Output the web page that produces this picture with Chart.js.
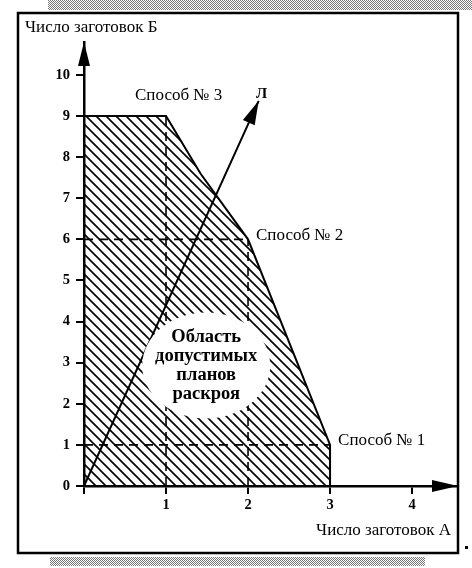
<!DOCTYPE html>
<html>
<head>
<meta charset="utf-8">
<script src="https://cdn.jsdelivr.net/npm/chart.js@4.4.1/dist/chart.umd.min.js"></script>
<style>
  body { margin: 0; background: #fff; }
  canvas { display: block; }
</style>
</head>
<body>
<canvas id="cutChart" width="472" height="568"></canvas>
<script>
  // Region of feasible cutting plans (vertices)
  const regionX = [0, 0, 1, 1.42, 2, 3, 3];
  const regionY = [0, 9, 9, 7.6, 6, 1, 0];

  // Cutting methods: blanks A and B
  const methodA = [3, 2, 1];
  const methodB = [1, 6, 9];
  const methodLabels = ['Способ № 1', 'Способ № 2', 'Способ № 3'];

  // Ray Л
  const rayX = [0, 2.13];
  const rayY = [0, 9.37];

  const xTicks = [1, 2, 3, 4];
  const yTicks = [0, 1, 2, 3, 4, 5, 6, 7, 8, 9, 10];
  const regionLabel = ['Область', 'допустимых', 'планов', 'раскроя'];
  const regionLabelPos = { x: 1.49, y: 2.93 };

  const SERIF = '"Liberation Serif", "DejaVu Serif", serif';

  // Hatch pattern
  function makeHatch() {
    const c = document.createElement('canvas');
    c.width = 10; c.height = 10;
    const g = c.getContext('2d');
    g.strokeStyle = '#000';
    g.lineWidth = 1.6;
    g.beginPath();
    g.moveTo(0, 0); g.lineTo(10, 10);
    g.moveTo(-2, 8); g.lineTo(2, 12);
    g.moveTo(8, -2); g.lineTo(12, 2);
    g.stroke();
    return g.createPattern(c, 'repeat');
  }

  function makeDither() {
    const c = document.createElement('canvas');
    c.width = 2; c.height = 2;
    const g = c.getContext('2d');
    g.fillStyle = '#fff'; g.fillRect(0, 0, 2, 2);
    g.fillStyle = '#777'; g.fillRect(0, 0, 1, 1); g.fillRect(1, 1, 1, 1);
    return g.createPattern(c, 'repeat');
  }

  const ctx = document.getElementById('cutChart').getContext('2d');
  const hatch = makeHatch();
  const dither = makeDither();

  const dashedSets = [];
  methodA.forEach((a, i) => {
    const b = methodB[i];
    dashedSets.push({
      data: [{ x: 0, y: b }, { x: a, y: b }],
      showLine: true, borderColor: '#000', borderWidth: 1.6,
      borderDash: [9, 6], pointRadius: 0, fill: false, order: 2
    });
    dashedSets.push({
      data: [{ x: a, y: 0 }, { x: a, y: b }],
      showLine: true, borderColor: '#000', borderWidth: 1.6,
      borderDash: [9, 6], pointRadius: 0, fill: false, order: 2
    });
  });

  const framePlugin = {
    id: 'frame',
    beforeDraw(chart) {
      const c = chart.ctx;
      c.save();
      c.fillStyle = '#fff';
      c.fillRect(0, 0, chart.width, chart.height);
      c.fillStyle = dither;
      c.fillRect(48, 0, 424, 10);
      c.fillRect(50, 557, 375, 9);
      c.strokeStyle = '#000';
      c.lineWidth = 2.5;
      c.strokeRect(18, 13, 440, 540);
      c.fillStyle = '#000';
      c.fillRect(465, 546, 3, 3);
      c.restore();
    }
  };

  const annotatePlugin = {
    id: 'annotate',
    afterDatasetsDraw(chart) {
      const c = chart.ctx;
      const xs = chart.scales.x, ys = chart.scales.y;
      c.save();

      // axis arrows
      const ox = xs.getPixelForValue(0), oy = ys.getPixelForValue(0);
      const top = chart.chartArea.top, right = chart.chartArea.right;
      c.fillStyle = '#000';
      c.beginPath();
      c.moveTo(ox, top); c.lineTo(ox - 6, top + 24); c.lineTo(ox + 6, top + 24); c.closePath();
      c.fill();
      c.beginPath();
      c.moveTo(right, oy); c.lineTo(right - 26, oy - 6); c.lineTo(right - 26, oy + 6); c.closePath();
      c.fill();

      // arrow head of ray Л
      const tx = xs.getPixelForValue(rayX[1]), ty = ys.getPixelForValue(rayY[1]);
      const sx = xs.getPixelForValue(rayX[0]), sy = ys.getPixelForValue(rayY[0]);
      const ang = Math.atan2(ty - sy, tx - sx);
      c.save();
      c.translate(tx, ty); c.rotate(ang);
      c.beginPath();
      c.moveTo(0, 0); c.lineTo(-24, -6.5); c.lineTo(-24, 6.5); c.closePath();
      c.fill();
      c.restore();

      // white oval with label
      const cx = xs.getPixelForValue(regionLabelPos.x), cy = ys.getPixelForValue(regionLabelPos.y);
      c.fillStyle = '#fff';
      c.beginPath();
      c.ellipse(cx, cy, 64, 53, 0, 0, Math.PI * 2);
      c.fill();
      c.fillStyle = '#000';
      c.font = 'bold 18.5px ' + SERIF;
      c.textAlign = 'center';
      c.textBaseline = 'middle';
      regionLabel.forEach((t, i) => {
        c.fillText(t, cx, cy - 28 + i * 19);
      });

      // method labels
      c.font = '17px ' + SERIF;
      c.textAlign = 'left';
      methodA.forEach((a, i) => {
        const px = xs.getPixelForValue(a), py = ys.getPixelForValue(methodB[i]);
        if (i === 2) c.fillText(methodLabels[i], px - 31, py - 20);
        else c.fillText(methodLabels[i], px + 8, py - 4);
      });

      // ray label
      c.font = 'bold 15px ' + SERIF;
      c.textAlign = 'center';
      c.fillText('Л', tx + 3, ty - 7);

      // axis titles
      c.font = '17px ' + SERIF;
      c.textAlign = 'left';
      c.fillText('Число заготовок Б', 25, 28);
      c.textAlign = 'right';
      c.fillText('Число заготовок А', 451, 531);

      c.restore();
    }
  };

  new Chart(ctx, {
    type: 'scatter',
    data: {
      datasets: [
        {
          data: regionX.map((x, i) => ({ x: x, y: regionY[i] })),
          showLine: true,
          borderColor: '#000',
          borderWidth: 2,
          backgroundColor: hatch,
          fill: 'origin',
          pointRadius: 0,
          order: 3
        },
        ...dashedSets,
        {
          data: rayX.map((x, i) => ({ x: x, y: rayY[i] })),
          showLine: true,
          borderColor: '#000',
          borderWidth: 2,
          pointRadius: 0,
          fill: false,
          order: 1
        }
      ]
    },
    options: {
      responsive: false,
      animation: false,
      layout: { padding: { left: 0, right: 14, top: 42, bottom: 42 } },
      plugins: {
        legend: { display: false },
        tooltip: { enabled: false }
      },
      scales: {
        x: {
          type: 'linear',
          min: 0,
          max: 4.56,
          afterFit: s => { s.height = 40; },
          border: { display: true, color: '#000', width: 2.5 },
          grid: { display: true, drawOnChartArea: false, color: '#000', lineWidth: 2, tickLength: 8 },
          ticks: {
            stepSize: 1,
            includeBounds: false,
            color: '#000',
            padding: 3,
            font: { family: SERIF, size: 14.5, weight: 'bold' },
            callback: v => (xTicks.includes(v) ? String(v) : '')
          }
        },
        y: {
          type: 'linear',
          min: 0,
          max: 10.8,
          afterFit: s => { s.width = 84; },
          border: { display: true, color: '#000', width: 2.5 },
          grid: { display: true, drawOnChartArea: false, color: '#000', lineWidth: 2, tickLength: 8 },
          ticks: {
            stepSize: 1,
            includeBounds: false,
            color: '#000',
            padding: 6,
            font: { family: SERIF, size: 14.5, weight: 'bold' },
            callback: v => (yTicks.includes(v) ? String(v) : '')
          }
        }
      }
    },
    plugins: [framePlugin, annotatePlugin]
  });
</script>
</body>
</html>
